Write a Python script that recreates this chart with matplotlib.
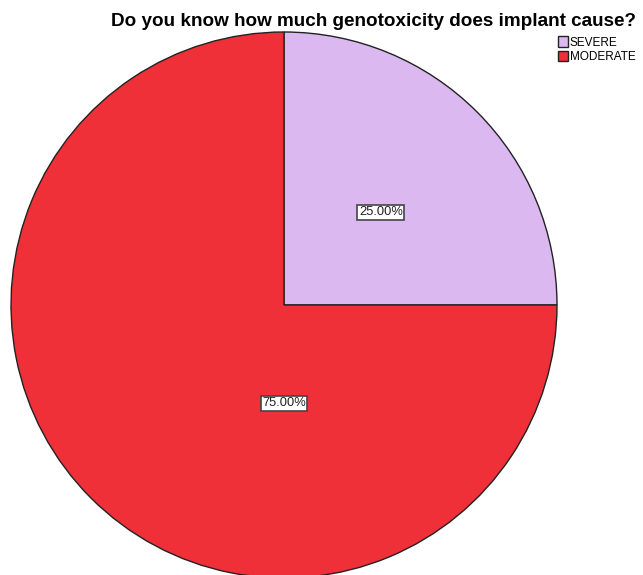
import numpy as np
import matplotlib.pyplot as plt
from matplotlib.patches import Patch

plt.rcParams['font.family'] = ['Liberation Sans', 'DejaVu Sans']

categories = ['SEVERE', 'MODERATE']
values = [25.0, 75.0]
colors = ['#dcb8f0', '#ef3038']
title = 'Do you know how much genotoxicity does implant cause?'

fig = plt.figure(figsize=(6.43, 5.75), dpi=100)
ax = fig.add_axes([11 / 643, -3 / 575, 546 / 643, 546 / 575])

wedges, texts, autotexts = ax.pie(
    values, colors=colors, startangle=90, counterclock=False,
    radius=1, pctdistance=0.5, autopct='%.2f%%',
    wedgeprops=dict(edgecolor='#222222', linewidth=1),
    textprops=dict(fontsize=9.3, color='#222222'))

# SPSS puts the big slice's label straight below the centre
autotexts[0].set_position((0.355, 0.34))
autotexts[1].set_position((0.0, -0.36))
for t in autotexts:
    t.set_bbox(dict(facecolor='white', edgecolor='#444444', linewidth=1.2, boxstyle='square,pad=0.12'))

ax.set_xlim(-1, 1)
ax.set_ylim(-1, 1)
ax.axis('off')

fig.text(0.173, 0.963, title, fontsize=13.6, fontweight='bold', ha='left', va='center')

handles = [Patch(facecolor=c, edgecolor='#222222', linewidth=1) for c in colors]
fig.legend(handles, categories, loc='upper left', bbox_to_anchor=(0.868, 0.937),
           frameon=False, fontsize=8.5, handlelength=0.8, handleheight=1.0,
           handletextpad=0.2, labelspacing=0.2, borderpad=0, borderaxespad=0)

fig.savefig('out.png', dpi=100)
